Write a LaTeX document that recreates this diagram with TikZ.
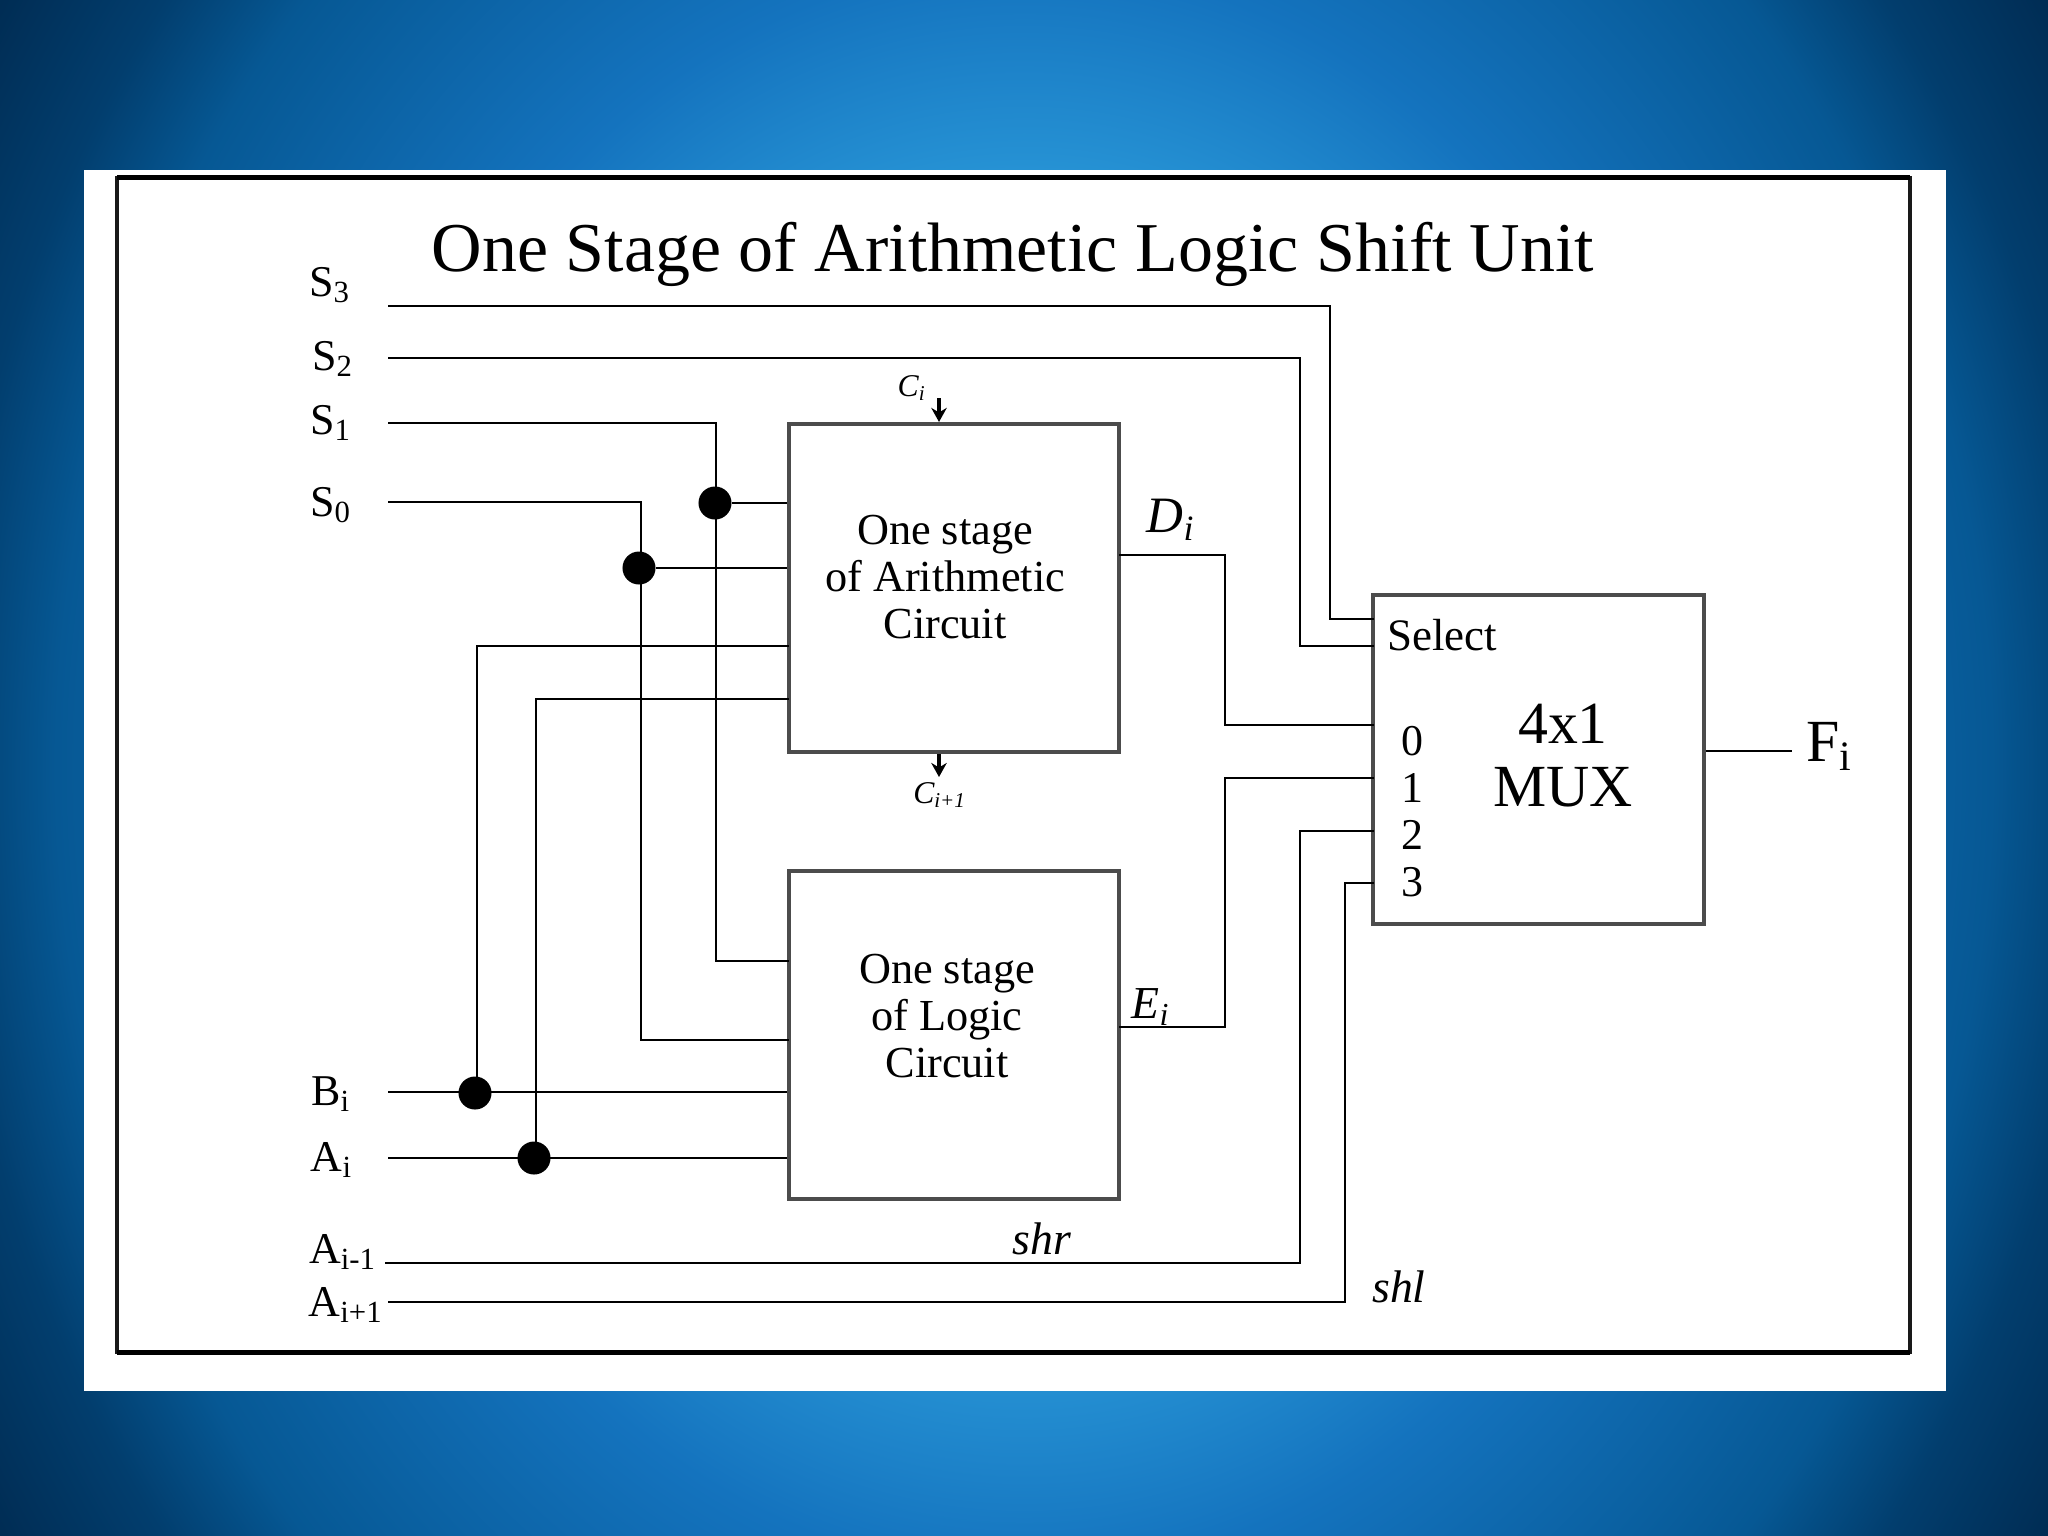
\documentclass[tikz,border=0pt]{standalone}
\usepackage{fontspec}
\setmainfont{Liberation Serif}
\usetikzlibrary{arrows.meta}

\definecolor{glowa}{RGB}{48,160,222}
\definecolor{glowb}{RGB}{38,146,212}
\definecolor{glowc}{RGB}{20,115,190}
\definecolor{glowd}{RGB}{6,88,148}
\definecolor{glowe}{RGB}{2,62,110}
\definecolor{glowf}{RGB}{0,42,80}
\pgfdeclareradialshading{slideglow}{\pgfpoint{0bp}{0bp}}{%
  color(0bp)=(glowa);
  color(11.5bp)=(glowb);
  color(15.5bp)=(glowc);
  color(22bp)=(glowd);
  color(24.5bp)=(glowe);
  color(28bp)=(glowf);
  color(50bp)=(glowf)}
\newcommand{\subs}[2]{#1\textsubscript{#2}}

\begin{document}
\begin{tikzpicture}[
    x=0.01cm, y=-0.01cm,
    inner sep=0pt,
    wire/.style={draw=black, line width=0.8pt},
    block/.style={draw=black!70, line width=1.1pt, minimum width=3.3cm, minimum height=3.28cm},
    dot/.style={circle, fill=black, minimum size=0.33cm},
    lab/.style={font=\fontsize{12.5}{15}\selectfont},
    inner/.style={font=\fontsize{12.6}{13.4}\selectfont, align=center},
    big/.style={font=\fontsize{17}{17.9}\selectfont, align=center},
    flow/.style={-{Stealth[length=4pt,width=4.4pt]}, line width=0.9pt},
]

\useasboundingbox (0,0) rectangle (2048,1536);
\begin{scope}
\clip (0,0) rectangle (2048,1536);
\shade[shading=slideglow] (-76,-532) rectangle (2124,2068);
\end{scope}

\node[fill=white, minimum width=18.6cm, minimum height=12.21cm] (sheet) at (1015,780.5) {};
\node[draw=black!90, line width=0.9pt, outer sep=0pt, minimum width=17.92cm, minimum height=11.74cm] (frame) at (1013.5,765) {};
\draw[black, line width=1.6pt] (frame.north west) -- (frame.north east);
\draw[black, line width=1.6pt] (frame.south west) -- (frame.south east);

\node[font=\fontsize{19.9}{22}\selectfont] (title) at (1013,254) {One Stage of Arithmetic Logic Shift Unit};

\node[block] (arith) at (954,588) {};
\node[block] (logic) at (954,1035) {};
\node[block] (mux) at (1538.5,759.5) {};

\node[inner] (arithtext) at (945,577) {One stage\\of Arithmetic\\Circuit};
\node[inner] (logictext) at (947,1016) {One stage\\of Logic\\Circuit};
\node[lab, font=\fontsize{12.8}{15}\selectfont] (selecttext) at (1442,635) {Select};
\node[big] (muxtext) at (1563,756) {4x1\\MUX};
\node[lab] (in0) at (1412,741) {0};
\node[lab] (in1) at (1412,788) {1};
\node[lab] (in2) at (1412,835) {2};
\node[lab] (in3) at (1412,882) {3};

\node[lab] (sthree) at (330,285) {\subs{S}{3}};
\node[lab] (stwo) at (333,359) {\subs{S}{2}};
\node[lab] (sone) at (331,423) {\subs{S}{1}};
\node[lab] (szero) at (331,505) {\subs{S}{0}};
\node[lab] (bi) at (331,1094) {\subs{B}{i}};
\node[lab] (ai) at (332,1160) {\subs{A}{i}};
\node[lab] (aminus) at (343,1252) {\subs{A}{i-1}};
\node[lab] (aplus) at (346,1305) {\subs{A}{i+1}};

\node[font=\fontsize{14.5}{17}\selectfont] (di) at (1171,520) {\subs{\textit{D}}{\textit{i}}};
\node[font=\fontsize{13}{15}\selectfont] (ei) at (1151,1007) {\subs{\textit{E}}{\textit{i}}};
\node[big] (fi) at (1830,746) {\subs{F}{i}};
\node[font=\itshape\fontsize{13}{15}\selectfont] (shr) at (1042,1239) {shr};
\node[font=\itshape\fontsize{13}{15}\selectfont] (shl) at (1399,1287) {shl};
\node[font=\itshape\fontsize{9}{10}\selectfont] (ci) at (912,388) {\subs{C}{i}};
\node[font=\itshape\fontsize{9}{10}\selectfont] (cnext) at (940,795) {\subs{C}{i+1}};

\node[dot] (dots1) at (715,503) {};
\node[dot] (dots0) at (639,568) {};
\node[dot] (dotb) at (475,1093) {};
\node[dot] (dota) at (534,1158) {};

\coordinate (starts3) at (388,306);
\coordinate (starts2) at (388,358);
\coordinate (starts1) at (388,423);
\coordinate (starts0) at (388,502);
\coordinate (startb) at (388,1092);
\coordinate (starta) at (388,1158);
\coordinate (startam) at (385,1263);
\coordinate (startap) at (388,1302);
\coordinate (selthree) at (1374,619);
\coordinate (seltwo) at (1374,646);
\coordinate (mux0) at (1374,725);
\coordinate (mux1) at (1374,778);
\coordinate (mux2) at (1374,831);
\coordinate (mux3) at (1374,883);
\coordinate (fend) at (1792,751);
\coordinate (ditop) at (1119,555);
\coordinate (eiout) at (1119,1027);
\coordinate (arb) at (789,646);
\coordinate (ara) at (789,699);
\coordinate (lgs1) at (789,961);
\coordinate (lgs0) at (789,1040);
\coordinate (cin) at (939,398);
\coordinate (cout) at (939,777);

\draw[wire] (starts3) -| (1330,619) -- (selthree);
\draw[wire] (starts2) -| (1300,646) -- (seltwo);
\draw[wire] (starts1) -| (716,961) -- (lgs1);
\draw[wire] (starts0) -| (641,1040) -- (lgs0);
\draw[wire] (dots1) -- (arith.west |- dots1);
\draw[wire] (dots0) -- (arith.west |- dots0);
\draw[wire] (startb) -- (logic.west |- startb);
\draw[wire] (starta) -- (logic.west |- starta);
\draw[wire] (dotb.center) ++(2,0) |- (arb);
\draw[wire] (dota.center) ++(2,0) |- (ara);
\draw[wire] (ditop) -| (1225,725) -- (mux0);
\draw[wire] (eiout) -| (1225,778) -- (mux1);
\draw[wire] (startam) -| (1300,831) -- (mux2);
\draw[wire] (startap) -| (1345,883) -- (mux3);
\draw[wire] (mux.east |- fend) -- (fend);
\draw[flow] (cin) -- (arith.north -| cin);
\draw[flow] (arith.south -| cout) -- (cout);

\end{tikzpicture}
\end{document}
